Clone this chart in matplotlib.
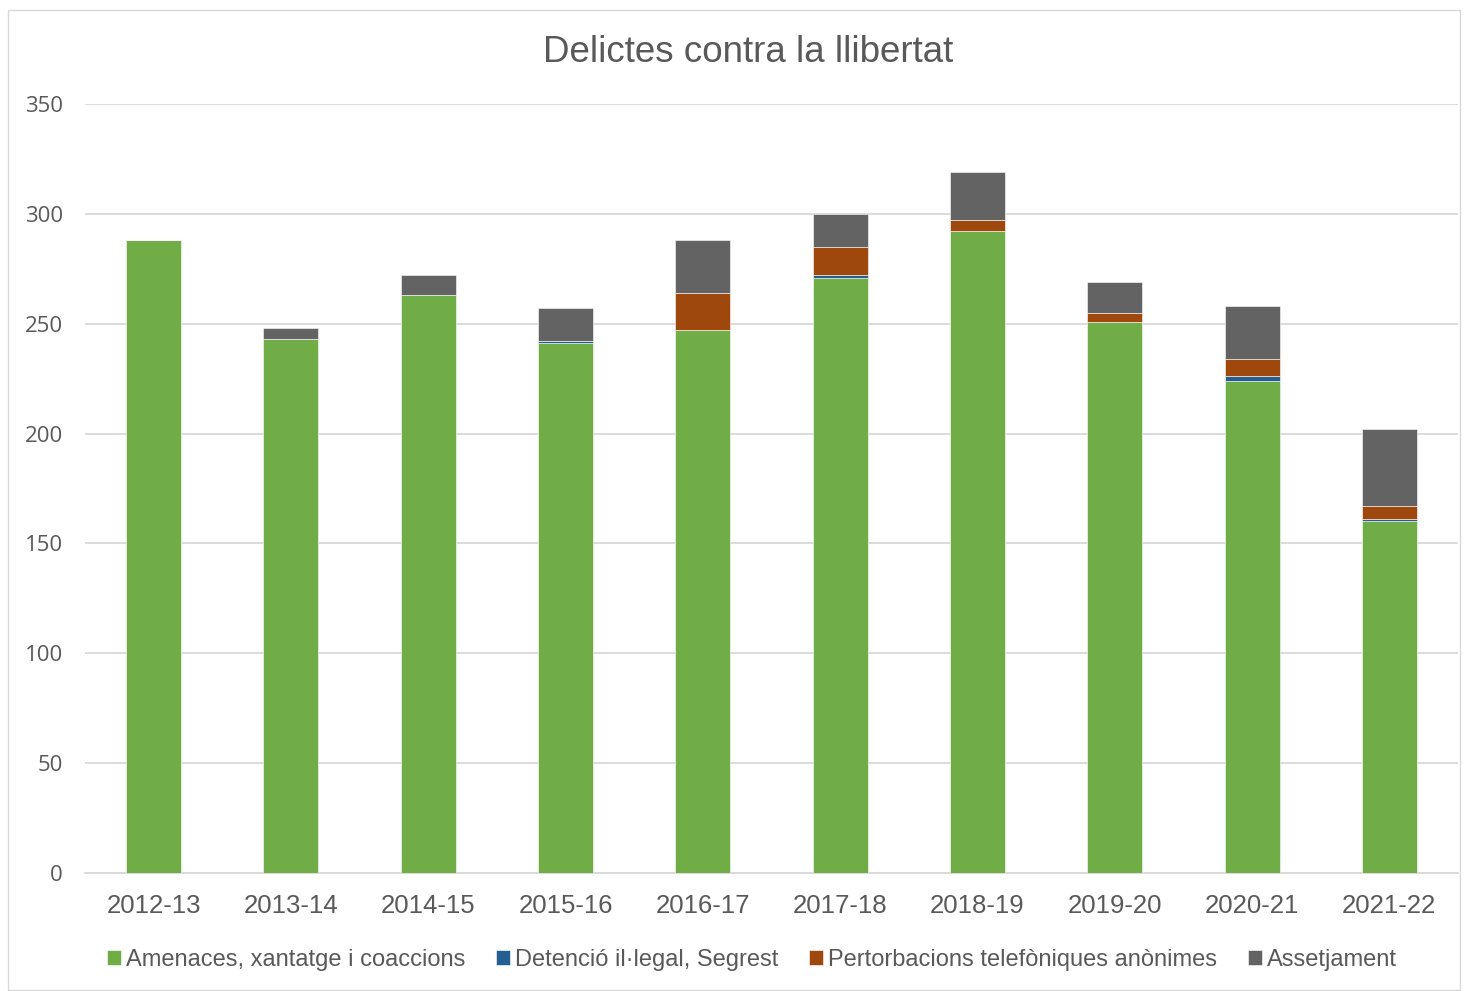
import matplotlib.pyplot as plt
import numpy as np
from matplotlib.patches import Rectangle

# Data
years = ['2012-13', '2013-14', '2014-15', '2015-16', '2016-17',
         '2017-18', '2018-19', '2019-20', '2020-21', '2021-22']
amenaces = [288, 243, 263, 241, 247, 271, 292, 251, 224, 160]
detencio = [0, 0, 0, 1, 0, 1, 0, 0, 2, 1]
pertorbacions = [0, 0, 0, 0, 17, 13, 5, 4, 8, 6]
assetjament = [0, 5, 9, 15, 24, 15, 22, 14, 24, 35]

series = [
    ('Amenaces, xantatge i coaccions', amenaces, '#70AD47'),
    ('Detenció il·legal, Segrest', detencio, '#255E91'),
    ('Pertorbacions telefòniques anònimes', pertorbacions, '#9E480E'),
    ('Assetjament', assetjament, '#636363'),
]

plt.rcParams['font.family'] = ['Liberation Sans', 'DejaVu Sans']

fig = plt.figure(figsize=(14.68, 9.91), dpi=100)
ax = fig.add_axes([85 / 1468, 1 - 873 / 991, (1458 - 85) / 1468, (873 - 104) / 991])

# Light border round the chart area
fig.patches.append(Rectangle((8 / 1468, 1 / 991), 1452 / 1468, 980 / 991,
                             transform=fig.transFigure, fill=False,
                             edgecolor='#d9d9d9', linewidth=1))

x = np.arange(len(years))
bottom = np.zeros(len(years))
for label, vals, color in series:
    vals = np.array(vals)
    ax.bar(x, vals, 0.4, bottom=bottom, color=color, label=label,
           edgecolor='#ffffff', linewidth=0.4, zorder=3)
    bottom += vals

ax.set_xlim(-0.5, len(years) - 0.5)
ax.set_ylim(0, 350)
ax.set_yticks(np.arange(0, 351, 50))
ax.set_xticks(x)
ax.set_xticklabels(years, fontsize=18.5, color='#595959')
ax.tick_params(axis='y', labelsize=16, labelcolor='#595959', length=0, pad=16)
ax.tick_params(axis='x', length=0, pad=15)
for lbl in ax.get_yticklabels():
    lbl.set_family('Open Sans')

ax.grid(axis='y', color='#d9d9d9', linewidth=1.3, zorder=0)
for side in ['top', 'right', 'left']:
    ax.spines[side].set_visible(False)
ax.spines['bottom'].set_color('#d9d9d9')
ax.spines['bottom'].set_linewidth(1.3)

fig.text(748 / 1468, 1 - 52 / 991, 'Delictes contra la llibertat',
         ha='center', va='center', fontsize=26.5, color='#595959')

fig.legend(loc='center', bbox_to_anchor=(752 / 1468, 1 - 960 / 991), ncol=4,
           frameon=False, fontsize=17, handlelength=0.6, handleheight=0.6,
           handletextpad=0.2, columnspacing=1.3, labelcolor='#595959')

plt.savefig('out.png', dpi=100)
